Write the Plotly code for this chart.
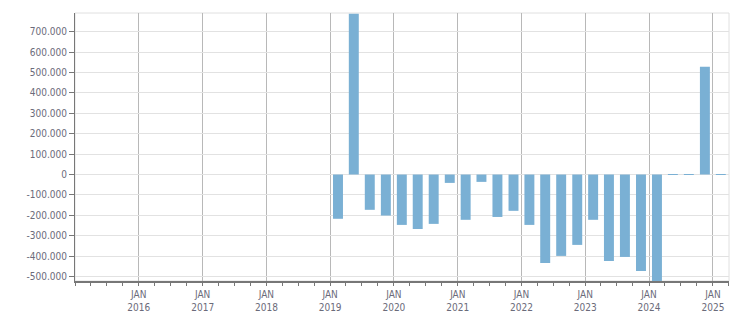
import plotly.graph_objects as go

# Quarterly values (quarter start dates)
quarters = ["2019-01-01", "2019-04-01", "2019-07-01", "2019-10-01",
            "2020-01-01", "2020-04-01", "2020-07-01", "2020-10-01",
            "2021-01-01", "2021-04-01", "2021-07-01", "2021-10-01",
            "2022-01-01", "2022-04-01", "2022-07-01", "2022-10-01",
            "2023-01-01", "2023-04-01", "2023-07-01", "2023-10-01",
            "2024-01-01", "2024-04-01", "2024-07-01", "2024-10-01",
            "2025-01-01"]
values = [-217000, 788000, -173000, -201000,
          -247000, -267000, -242000, -41000,
          -222000, -36000, -208000, -178000,
          -247000, -434000, -399000, -345000,
          -222000, -424000, -404000, -473000,
          -540000, 2000, 2000, 529000, 2000]

year_ticks = ["2016-01-01", "2017-01-01", "2018-01-01", "2019-01-01", "2020-01-01",
              "2021-01-01", "2022-01-01", "2023-01-01", "2024-01-01", "2025-01-01"]
year_labels = ["JAN<br>2016", "JAN<br>2017", "JAN<br>2018", "JAN<br>2019", "JAN<br>2020",
               "JAN<br>2021", "JAN<br>2022", "JAN<br>2023", "JAN<br>2024", "JAN<br>2025"]
y_ticks = [-500000, -400000, -300000, -200000, -100000, 0,
           100000, 200000, 300000, 400000, 500000, 600000, 700000]
y_labels = ["-500.000", "-400.000", "-300.000", "-200.000", "-100.000", "0",
            "100.000", "200.000", "300.000", "400.000", "500.000", "600.000", "700.000"]

DAY_MS = 86400000
text_color = "#6b6b7a"
font = dict(family="DejaVu Sans Condensed, DejaVu Sans", size=10, color=text_color)

fig = go.Figure()
fig.add_trace(go.Bar(
    x=quarters, y=values,
    xperiod="M3", xperiodalignment="middle",
    width=57 * DAY_MS,
    marker=dict(color="#7ab0d4", line=dict(width=0)),
    hoverinfo="x+y",
))

fig.update_layout(
    width=751, height=313,
    margin=dict(l=75, r=22, t=13, b=32),
    plot_bgcolor="white", paper_bgcolor="white",
    showlegend=False,
    font=font,
    shapes=[dict(type="rect", xref="paper", yref="paper", x0=0, x1=1, y0=0, y1=1,
                 line=dict(color="#e0e0e0", width=1), layer="below")],
)

fig.update_xaxes(
    type="date",
    range=["2015-01-01", "2025-04-03"],
    tickmode="array", tickvals=year_ticks, ticktext=year_labels,
    ticks="outside", ticklen=3, tickcolor="#777777",
    showgrid=True, gridcolor="#b8b8b8", gridwidth=1,
    showline=True, linecolor="#777777", linewidth=2,
    minor=dict(dtick="M3", tick0="2015-01-01", ticks="outside", ticklen=3,
               tickcolor="#777777", showgrid=False),
    tickfont=font,
    zeroline=False,
    automargin=False,
)
fig.update_yaxes(
    range=[-522000, 792000],
    tickmode="array", tickvals=y_ticks, ticktext=y_labels,
    ticks="outside", ticklen=5, tickcolor="#777777",
    showgrid=True, gridcolor="#e2e2e2", gridwidth=1,
    showline=True, linecolor="#777777", linewidth=1,
    zeroline=False,
    tickfont=font,
    automargin=False,
)

fig.write_html("out.html")
